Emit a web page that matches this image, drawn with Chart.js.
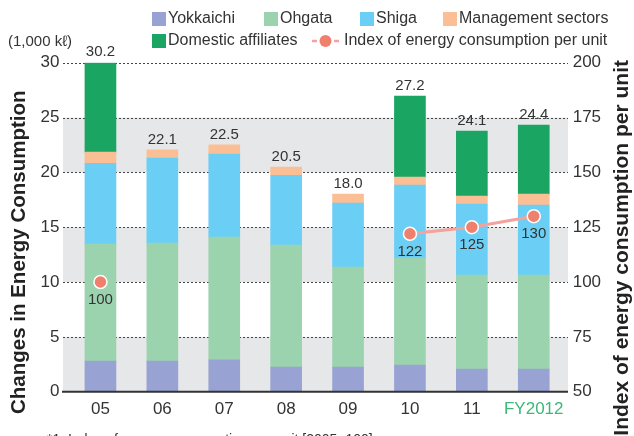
<!DOCTYPE html>
<html>
<head>
<meta charset="utf-8">
<script src="https://cdn.jsdelivr.net/npm/chart.js@4"></script>
<style>
  html, body { margin: 0; padding: 0; background: #fff; }
  #wrap { width: 634px; height: 436px; position: relative; }
</style>
</head>
<body>
<div id="wrap"><canvas id="energyChart" width="634" height="436"></canvas></div>
<script>
// categories and values
const years = ['05', '06', '07', '08', '09', '10', '11', 'FY2012'];
const yokkaichi = [2.8, 2.8, 2.9, 2.25, 2.25, 2.43, 2.07, 2.07];
const ohgata = [10.66, 10.75, 11.2, 11.12, 9.12, 9.76, 8.57, 8.57];
const shiga = [7.36, 7.75, 7.57, 6.36, 5.83, 6.65, 6.47, 6.38];
const management = [1.03, 0.75, 0.83, 0.75, 0.83, 0.73, 0.73, 1.0];
const domestic = [8.15, null, null, null, null, 7.38, 5.93, 6.3];
const totals = ['30.2', '22.1', '22.5', '20.5', '18.0', '27.2', '24.1', '24.4'];
const energyIndex = [100, null, null, null, null, 122, 125, 130];

const FONT = '"Liberation Sans", Arial, sans-serif';
const TEXT = '#333';
const GREEN_LABEL = '#3cb878';

const seriesColors = {
    yokkaichi: '#98a3d3',
    ohgata: '#9bd3ae',
    shiga: '#6bcff5',
    management: '#fbbf95',
    domestic: '#1aa563'
};

// bands, dashed grid, baseline, labels, legend, titles
const decor = {
    id: 'decor',
    beforeDatasetsDraw(chart) {
        const ctx = chart.ctx;
        const y = chart.scales.y;
        const x0 = 63, x1 = 568;
        ctx.save();
        ctx.fillStyle = '#e6e7e8';
        [[0, 5], [10, 15], [20, 25]].forEach(b => {
            const top = y.getPixelForValue(b[1]);
            const bot = y.getPixelForValue(b[0]);
            ctx.fillRect(x0, top, x1 - x0, bot - top);
        });
        ctx.strokeStyle = '#444';
        ctx.lineWidth = 1;
        ctx.setLineDash([2, 2]);
        for (let v = 5; v <= 30; v += 5) {
            const py = Math.round(y.getPixelForValue(v)) + 0.5;
            ctx.beginPath();
            ctx.moveTo(x0, py);
            ctx.lineTo(x1, py);
            ctx.stroke();
        }
        ctx.restore();
    },
    afterDatasetsDraw(chart) {
        const ctx = chart.ctx;
        const y = chart.scales.y;
        const y1 = chart.scales.y1;
        const x = chart.scales.x;
        ctx.save();

        // baseline
        ctx.strokeStyle = '#333';
        ctx.lineWidth = 2;
        ctx.beginPath();
        ctx.moveTo(62, y.getPixelForValue(0));
        ctx.lineTo(568, y.getPixelForValue(0));
        ctx.stroke();

        // totals over bars
        ctx.fillStyle = TEXT;
        ctx.font = '15px ' + FONT;
        ctx.textAlign = 'center';
        ctx.textBaseline = 'bottom';
        years.forEach((yr, i) => {
            const sum = yokkaichi[i] + ohgata[i] + shiga[i] + management[i] + (domestic[i] || 0);
            ctx.fillText(totals[i], x.getPixelForValue(i), y.getPixelForValue(sum) - 3);
        });

        // index labels under points
        ctx.textBaseline = 'middle';
        energyIndex.forEach((v, i) => {
            if (v === null) return;
            ctx.fillText(String(v), x.getPixelForValue(i), y1.getPixelForValue(v) + 18);
        });

        // unit
        ctx.textAlign = 'left';
        ctx.font = '15px ' + FONT;
        ctx.fillText('(1,000 k\u2113)', 8, 42);

        // legend
        ctx.font = '16px ' + FONT;
        const items = [
            [152, 19, seriesColors.yokkaichi, 'Yokkaichi'],
            [264, 19, seriesColors.ohgata, 'Ohgata'],
            [360, 19, seriesColors.shiga, 'Shiga'],
            [443, 19, seriesColors.management, 'Management sectors'],
            [152, 41, seriesColors.domestic, 'Domestic affiliates']
        ];
        items.forEach(it => {
            ctx.fillStyle = it[2];
            ctx.fillRect(it[0], it[1] - 7, 14, 14);
            ctx.fillStyle = TEXT;
            ctx.fillText(it[3], it[0] + 16, it[1]);
        });
        ctx.strokeStyle = '#f4a29c';
        ctx.lineWidth = 2.5;
        ctx.beginPath(); ctx.moveTo(312, 41); ctx.lineTo(317, 41); ctx.stroke();
        ctx.beginPath(); ctx.moveTo(334, 41); ctx.lineTo(339, 41); ctx.stroke();
        ctx.fillStyle = '#f0806e';
        ctx.beginPath(); ctx.arc(325.5, 41, 6, 0, Math.PI * 2); ctx.fill();
        ctx.fillStyle = TEXT;
        ctx.fillText('Index of energy consumption per unit', 344, 41);

        // axis titles
        ctx.fillStyle = '#222';
        ctx.font = 'bold 20.5px ' + FONT;
        ctx.save();
        ctx.translate(19, 414);
        ctx.rotate(-Math.PI / 2);
        ctx.textAlign = 'left';
        ctx.fillText('Changes in Energy Consumption', 0, 0);
        ctx.restore();
        ctx.save();
        ctx.font = 'bold 21px ' + FONT;
        ctx.translate(622, 60);
        ctx.rotate(-Math.PI / 2);
        ctx.textAlign = 'right';
        ctx.fillText('Index of energy consumption per unit', 0, 0);
        ctx.restore();

        // footnote
        ctx.fillStyle = TEXT;
        ctx.font = '14px ' + FONT;
        ctx.textAlign = 'left';
        ctx.textBaseline = 'top';
        ctx.fillText('*1: Index of energy consumption per unit [2005=100]', 47, 433);

        ctx.restore();
    }
};

function barSet(label, data, color) {
    return {
        type: 'bar',
        label: label,
        data: data,
        backgroundColor: color,
        yAxisID: 'y',
        stack: 'energy',
        barThickness: 31,
        order: 2
    };
}

const ctx = document.getElementById('energyChart').getContext('2d');
const energyChart = new Chart(ctx, {
    data: {
        labels: years,
        datasets: [
            {
                type: 'line',
                label: 'Index of energy consumption per unit',
                data: energyIndex,
                yAxisID: 'y1',
                borderColor: '#f4a29c',
                borderWidth: 3,
                pointRadius: 6.5,
                pointHoverRadius: 6.5,
                pointBackgroundColor: '#f0806e',
                pointBorderColor: '#fff',
                pointBorderWidth: 1.5,
                spanGaps: false,
                order: 1
            },
            barSet('Yokkaichi', yokkaichi, seriesColors.yokkaichi),
            barSet('Ohgata', ohgata, seriesColors.ohgata),
            barSet('Shiga', shiga, seriesColors.shiga),
            barSet('Management sectors', management, seriesColors.management),
            barSet('Domestic affiliates', domestic, seriesColors.domestic)
        ]
    },
    options: {
        responsive: false,
        animation: false,
        layout: { padding: { top: 62.7, bottom: 0, left: 0, right: 0 } },
        plugins: {
            legend: { display: false },
            tooltip: { enabled: false }
        },
        scales: {
            x: {
                stacked: true,
                offset: true,
                grid: { display: false, drawTicks: false },
                border: { display: false },
                ticks: {
                    padding: 7,
                    maxRotation: 0,
                    minRotation: 0,
                    autoSkip: false,
                    font: { size: 17, family: FONT },
                    color: c => c.index === 7 ? GREEN_LABEL : TEXT
                },
                afterFit: s => { s.height = 44.3; }
            },
            y: {
                position: 'left',
                stacked: true,
                min: 0,
                max: 30,
                ticks: {
                    stepSize: 5,
                    padding: 10,
                    font: { size: 17, family: FONT },
                    color: TEXT
                },
                grid: { display: false, drawTicks: false },
                border: { display: false },
                afterFit: s => { s.width = 69.5; }
            },
            y1: {
                position: 'right',
                min: 50,
                max: 200,
                ticks: {
                    stepSize: 25,
                    padding: 8,
                    font: { size: 17, family: FONT },
                    color: TEXT
                },
                grid: { display: false, drawTicks: false },
                border: { display: false },
                afterFit: s => { s.width = 69.3; }
            }
        }
    },
    plugins: [decor]
});
</script>
</body>
</html>
